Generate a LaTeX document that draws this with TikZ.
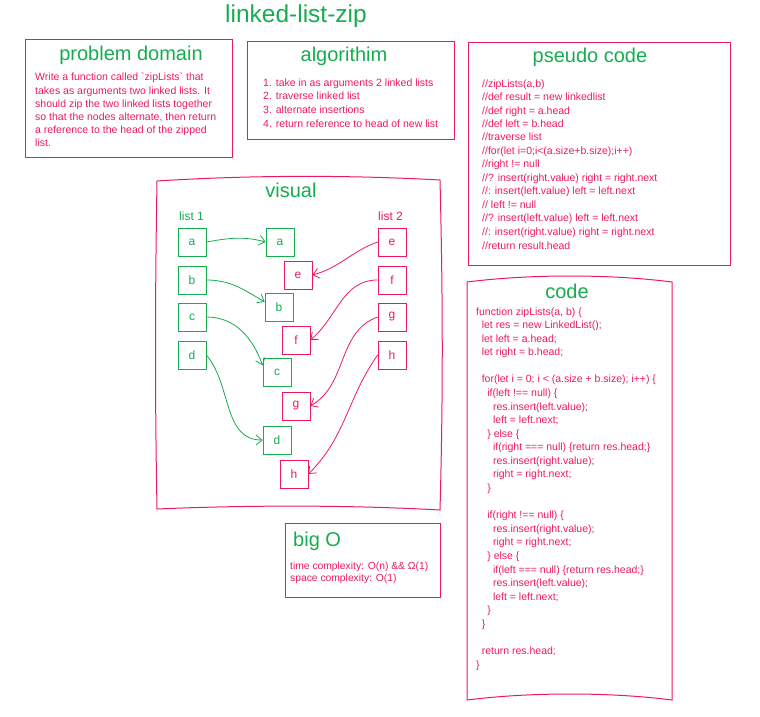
\documentclass[tikz,border=0pt]{standalone}
\usepackage{fontspec}
\setmainfont{Liberation Sans}
\usetikzlibrary{arrows.meta}
\definecolor{leaf}{RGB}{22,172,80}
\definecolor{rose}{RGB}{236,25,95}
\newcommand{\bodysize}{\fontsize{10.5}{13.5}\selectfont}
\newcommand{\headsize}{\fontsize{20}{24}\selectfont}
\newcommand{\lvl}{\hspace*{5.6pt}}

\begin{document}
\begin{tikzpicture}[x=1pt,y=-1pt,
   frame/.style={draw=rose,line width=1pt},
   head/.style={text=leaf,font=\headsize,anchor=base,inner sep=0pt},
   body/.style={text=rose,font=\bodysize,anchor=base west,inner sep=0pt},
   gbox/.style={draw=leaf,text=leaf,line width=0.8pt,minimum size=28pt,
     inner sep=0pt,font=\fontsize{12}{14}\selectfont},
   pbox/.style={gbox,draw=rose,text=rose},
   glink/.style={draw=leaf,line width=0.8pt,-{Straight Barb[length=6pt,width=10pt]}},
   plink/.style={glink,draw=rose}]
   \useasboundingbox (0,0) rectangle (760,717);

   % title
   \node[head,font=\fontsize{24.5}{28}\selectfont] (title) at (296,23) {linked-list-zip};

   % frames
   \draw[frame] (25,40) rectangle (232,157);
   \draw[frame] (247,42) rectangle (454,139);
   \draw[frame] (468,43) rectangle (730,265);
   \draw[frame] (285,523) rectangle (440,597);
   \draw[frame] (157,181) .. controls (250,175) and (350,175) .. (440,180)
     .. controls (443,300) and (443,400) .. (440,510)
     .. controls (350,505) and (250,505) .. (157,509)
     .. controls (155,400) and (155,300) .. cycle;
   \draw[frame] (467,282) .. controls (530,274) and (610,274) .. (672,282)
     -- (672,700) .. controls (610,692) and (530,692) .. (467,700) -- cycle;

   % problem domain
   \node[head] (domainhead) at (131,61) {problem domain};
   \node[body,font=\fontsize{10.5}{13.2}\selectfont] (domaintext) at (35,81) {\begin{tabular}[t]{@{}l@{}}
     Write a function called \textasciigrave zipLists\textasciigrave\ that\\
     takes as arguments two linked lists. It\\
     should zip the two linked lists together\\
     so that the nodes alternate, then return\\
     a reference to the head of the zipped\\
     list.
   \end{tabular}};

   % algorithm
   \node[head] (algohead) at (344,62) {algorithim};
   \node[body,font=\fontsize{10.5}{13.7}\selectfont] (algotext) at (263,86) {\begin{tabular}[t]{@{}l@{}}
     1. take in as arguments 2 linked lists\\
     2. traverse linked list\\
     3. alternate insertions\\
     4. return reference to head of new list
   \end{tabular}};

   % pseudo code
   \node[head] (pseudohead) at (590,63) {pseudo code};
   \node[body] (pseudotext) at (482,87) {\begin{tabular}[t]{@{}l@{}}
     //zipLists(a,b)\\
     //def result = new linkedlist\\
     //def right = a.head\\
     //def left = b.head\\
     //traverse list\\
     //for(let i=0;i<(a.size+b.size);i++)\\
     //right != null\\
     //? insert(right.value) right = right.next\\
     //: insert(left.value) left = left.next\\
     // left != null\\
     //? insert(left.value) left = left.next\\
     //: insert(right.value) right = right.next\\
     //return result.head
   \end{tabular}};

   % visual
   \node[head] (visualhead) at (291,197) {visual};
   \node[body,text=leaf,font=\fontsize{12}{14}\selectfont] (list1) at (179,220) {list 1};
   \node[body,font=\fontsize{12}{14}\selectfont] (list2) at (378,220) {list 2};

   \node[gbox] (l1a) at (192,242) {a};
   \node[gbox] (l1b) at (192,280) {b};
   \node[gbox] (l1c) at (192,317) {c};
   \node[gbox] (l1d) at (192,355) {d};

   \node[pbox] (l2e) at (392,242) {e};
   \node[pbox] (l2f) at (392,280) {f};
   \node[pbox] (l2g) at (392,317) {g};
   \node[pbox] (l2h) at (392,355) {h};

   \node[gbox] (ma) at (280,242) {a};
   \node[pbox] (me) at (298,275) {e};
   \node[gbox] (mb) at (279,307) {b};
   \node[pbox] (mf) at (296,340) {f};
   \node[gbox] (mc) at (277,372) {c};
   \node[pbox] (mg) at (296,406) {g};
   \node[gbox] (md) at (277,440) {d};
   \node[pbox] (mh) at (294,474) {h};

   \draw[glink] (l1a.east) to[out=10,in=165] (ma.west);
   \draw[glink] (l1b.east) to[out=0,in=150] (mb.160);
   \draw[glink] (l1c.east) to[out=0,in=110] (mc.155);
   \draw[glink] (l1d.east) to[out=-50,in=180] (md.west);
   \draw[plink] (l2e.west) to[out=200,in=15] (me.east);
   \draw[plink] (l2f.west) to[out=180,in=40] (mf.east);
   \draw[plink] (l2g.west) to[out=200,in=30] (mg.east);
   \draw[plink] (l2h.west) to[out=235,in=45] (mh.east);

   % big O
   \node[head,anchor=base west] (bighead) at (293,546) {big O};
   \node[body,font=\fontsize{10.3}{12.2}\selectfont] (bigtext) at (290,569) {\begin{tabular}[t]{@{}l@{}}
     time complexity: O(n) \&\& Ω(1)\\
     space complexity: O(1)
   \end{tabular}};

   % code
   \node[head] (codehead) at (567,298) {code};
   \node[body,font=\fontsize{10.5}{13.58}\selectfont] (codetext) at (476,315) {\begin{tabular}[t]{@{}l@{}}
     function zipLists(a, b) \{\\
     \lvl let res = new LinkedList();\\
     \lvl let left = a.head;\\
     \lvl let right = b.head;\\
     \\
     \lvl for(let i = 0; i < (a.size + b.size); i++) \{\\
     \lvl\lvl if(left !== null) \{\\
     \lvl\lvl\lvl res.insert(left.value);\\
     \lvl\lvl\lvl left = left.next;\\
     \lvl\lvl \} else \{\\
     \lvl\lvl\lvl if(right === null) \{return res.head;\}\\
     \lvl\lvl\lvl res.insert(right.value);\\
     \lvl\lvl\lvl right = right.next;\\
     \lvl\lvl \}\\
     \\
     \lvl\lvl if(right !== null) \{\\
     \lvl\lvl\lvl res.insert(right.value);\\
     \lvl\lvl\lvl right = right.next;\\
     \lvl\lvl \} else \{\\
     \lvl\lvl\lvl if(left === null) \{return res.head;\}\\
     \lvl\lvl\lvl res.insert(left.value);\\
     \lvl\lvl\lvl left = left.next;\\
     \lvl\lvl \}\\
     \lvl \}\\
     \\
     \lvl return res.head;\\
     \}
   \end{tabular}};
\end{tikzpicture}
\end{document}
